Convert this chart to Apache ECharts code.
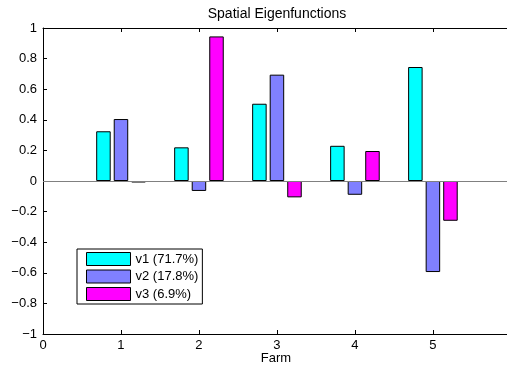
<!DOCTYPE html>
<html>
<head>
<meta charset="utf-8">
<script src="https://cdn.jsdelivr.net/npm/echarts@6/dist/echarts.min.js"></script>
<style>html,body{margin:0;padding:0;background:#fff}#c{width:507px;height:365px}</style>
</head>
<body>
<div id="c"></div>
<script>
const farms = [1, 2, 3, 4, 5];
const seriesNames = ['v1 (71.7%)', 'v2 (17.8%)', 'v3 (6.9%)'];
const v1 = [0.325, 0.22, 0.505, 0.23, 0.745];
const v2 = [0.405, -0.065, 0.695, -0.09, -0.595];
const v3 = [-0.01, 0.945, -0.107, 0.196, -0.26];
const colors = ['#00ffff', '#8080ff', '#ff00ff'];
const xTicks = [0, 1, 2, 3, 4, 5];
const yTicks = [-1, -0.8, -0.6, -0.4, -0.2, 0, 0.2, 0.4, 0.6, 0.8, 1];
const xName = 'Farm';
const titleText = 'Spatial Eigenfunctions';

const FONT = 'Liberation Sans, Arial, sans-serif';
const FS = 13;
const chart = echarts.init(document.getElementById('c'), null, {renderer: 'canvas'});
const vals = [v1, v2, v3];
const series = vals.map((arr, i) => ({
  name: seriesNames[i],
  type: 'bar',
  xAxisIndex: 0,
  barWidth: 14.5,
  barGap: '21%',
  data: farms.map((f, j) => [f, arr[j]]),
  itemStyle: {color: colors[i], borderColor: '#000', borderWidth: 1},
  emphasis: {disabled: true},
  animation: false,
  z: 3
}));
series.push({
  type: 'line',
  data: [],
  silent: true,
  markLine: {
    silent: true,
    symbol: ['none', 'none'],
    label: {show: false},
    lineStyle: {color: '#808080', width: 1, type: 'solid'},
    data: [{yAxis: 0}]
  },
  z: 2
});
const fmtY = v => {
  const r = +(+v).toFixed(1);
  return r < 0 ? '\u2212' + Math.abs(r) : String(r);
};
chart.setOption({
  animation: false,
  backgroundColor: '#fff',
  color: colors,
  textStyle: {fontFamily: FONT},
  grid: {left: 43, right: 0, top: 28, bottom: 31, containLabel: false, outerBoundsMode: 'none'},
  graphic: [{
    type: 'text', x: 277, y: 14,
    style: {text: titleText, font: '14px ' + FONT, fill: '#000', textAlign: 'center', textVerticalAlign: 'middle'}
  }, {
    type: 'text', x: 276, y: 358.5,
    style: {text: xName, font: FS + 'px ' + FONT, fill: '#000', textAlign: 'center', textVerticalAlign: 'middle'}
  }],
  legend: {
    orient: 'vertical',
    left: 77, top: 249,
    padding: [3, 4, 3, 9],
    icon: 'rect',
    itemWidth: 44, itemHeight: 13,
    itemGap: 3.5,
    itemStyle: {borderColor: '#000', borderWidth: 1},
    backgroundColor: '#fff',
    borderColor: '#000', borderWidth: 1,
    textStyle: {fontSize: FS, lineHeight: 14, color: '#000', fontFamily: FONT},
    data: seriesNames,
    selectedMode: false
  },
  xAxis: [{
    type: 'value', min: 0, max: 5.95, interval: 1,
    position: 'bottom',
    axisLine: {show: true, onZero: false, lineStyle: {color: '#000', width: 1}},
    axisTick: {show: true, inside: true, length: 4, lineStyle: {color: '#000'}},
    axisLabel: {color: '#000', fontSize: FS, margin: 5, fontFamily: FONT,
      formatter: v => xTicks.includes(v) ? String(v) : ''},
    splitLine: {show: false}
  }, {
    type: 'value', min: 0, max: 5.95, interval: 1,
    position: 'top',
    axisLine: {show: true, onZero: false, lineStyle: {color: '#000', width: 1}},
    axisTick: {show: true, inside: true, length: 4, lineStyle: {color: '#000'}},
    axisLabel: {show: false},
    splitLine: {show: false}
  }],
  yAxis: {
    type: 'value', min: yTicks[0], max: yTicks[yTicks.length - 1], interval: 0.2,
    axisLine: {show: true, onZero: false, lineStyle: {color: '#000', width: 1}},
    axisTick: {show: true, inside: true, length: 4, lineStyle: {color: '#000'}},
    axisLabel: {color: '#000', fontSize: FS, margin: 6, fontFamily: FONT, formatter: fmtY},
    splitLine: {show: false}
  },
  series: series
});
</script>
</body>
</html>
